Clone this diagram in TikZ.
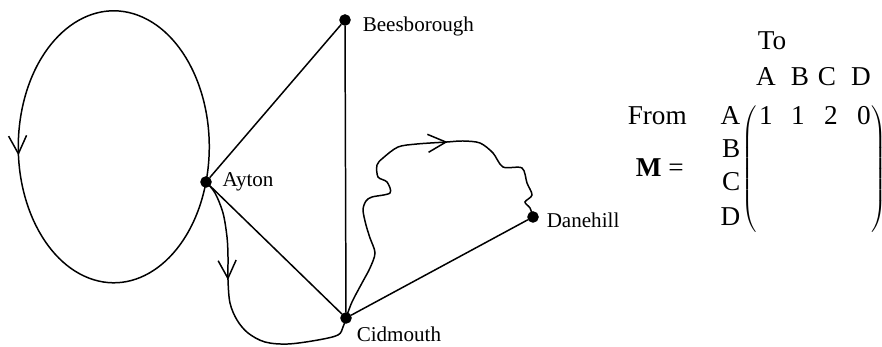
\documentclass[tikz,border=0pt]{standalone}
\usepackage{fontspec}
\setmainfont{Liberation Serif}
\usetikzlibrary{arrows.meta,decorations.markings}

\begin{document}
\begin{tikzpicture}[x=0.02cm,y=0.02cm,line width=0.85pt,
                    town/.style={circle,fill=black,draw,inner sep=0pt,minimum size=0.2cm},
                    place/.style={anchor=base west,inner sep=0pt,font=\fontsize{12}{14}\selectfont},
                    tab/.style={inner sep=0pt,font=\fontsize{15.5}{18}\selectfont},
                    route/.style={postaction={decorate},decoration={markings,
                      mark=at position #1 with {\arrow{Straight Barb[length=0.36cm,width=0.36cm]}}}}
                   ]
  \useasboundingbox (0,0) rectangle (882,347);

  \node[town] (A) at (206,165) {};
  \node[town] (B) at (345,327) {};
  \node[town] (C) at (346,29) {};
  \node[town] (D) at (533,130) {};
  \node[place] (LA) at (222,160) {Ayton};
  \node[place] (LB) at (362,315) {Beesborough};
  \node[place] (LC) at (356,5) {Cidmouth};
  \node[place] (LD) at (546,119) {Danehill};

  \path%
   (A) edge (B)
       edge (C)
   (B) edge (C)
   (C) edge (D);

  % loop at Ayton
  \draw[route=0.56] (A.center) arc[start angle=-15,end angle=345,x radius=1.91cm,y radius=2.72cm];

  % the two winding routes
  \draw[route=0.376] plot[smooth,tension=0.55] coordinates {(A.center) (215,154) (223,134) (227,110)
      (228,90) (228,67) (230,44) (237,27) (248,14) (265,5) (288,3) (318,7) (338,12) (343,20) (C.center)};
  \draw[route=0.65] plot[smooth,tension=0.5] coordinates {(C.center) (352,45) (362,64) (370,79) (375,94)
      (370,109) (366,122) (363,137) (366,146) (372,150) (390,154) (387,165) (378,170) (377,182)
      (383,189) (398,200) (417,203) (447,205) (463,206) (480,204) (493,194) (503,180) (522,179)
      (527,164) (532,152) (525,145) (530,139) (D.center)};

  % the matrix
  \node[tab,anchor=base west] (To) at (757,297) {To};
  \foreach \col/\x in {A/766,B/800,C/827,D/861}
    \node[tab,anchor=base] (top\col) at (\x,261) {\col};
  \node[tab,anchor=base west] (From) at (627,222) {From};
  \foreach \rw/\y in {A/222,B/189,C/156,D/121}
    \node[tab,anchor=base east] (row\rw) at (741,\y) {\rw};
  \node[tab,anchor=base west] (Meq) at (635,170) {\textbf{M} =};
  \foreach \v/\x [count=\i] in {1/766,1/798,2/831,0/864}
    \node[tab,anchor=base] (m\i) at (\x,222) {\v};
  \node[inner sep=0pt] (lpar) at (750,178)
    {$\delimitershortfall=0pt\delimiterfactor=1000\left(\vcenter{\hrule height 34.2pt depth 34.2pt width 0pt}\right.$};
  \node[inner sep=0pt] (rpar) at (878,178)
    {$\delimitershortfall=0pt\delimiterfactor=1000\left.\vcenter{\hrule height 34.2pt depth 34.2pt width 0pt}\right)$};
\end{tikzpicture}
\end{document}
